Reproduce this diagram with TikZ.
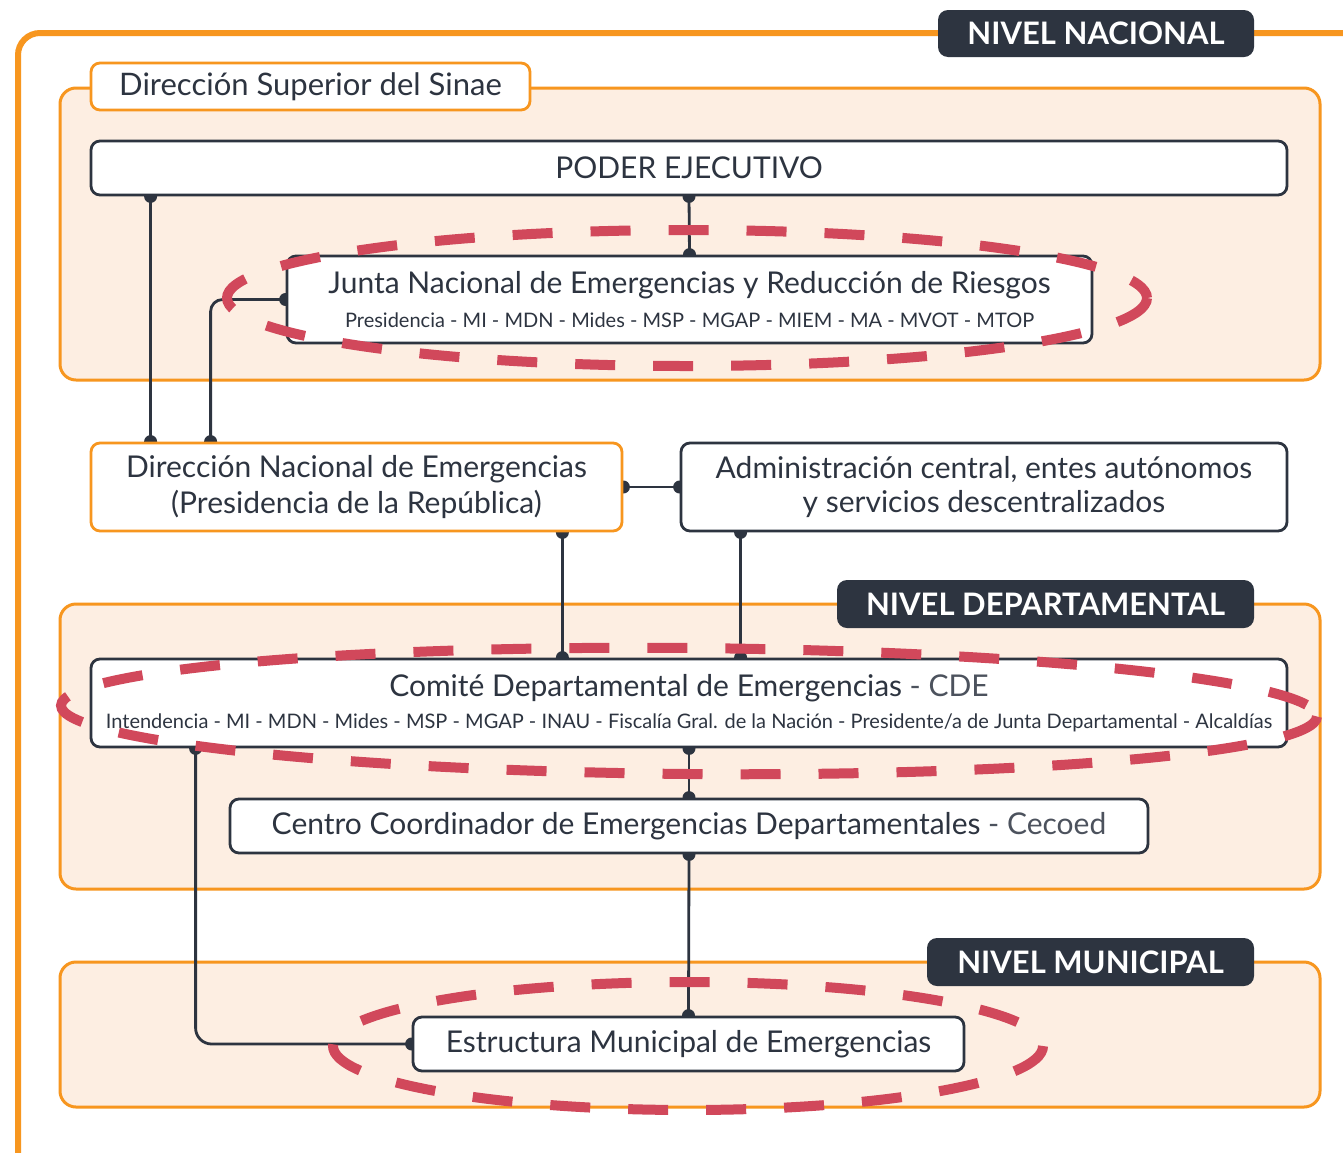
\documentclass[tikz,border=0pt]{standalone}
\usepackage{fontspec}
\setmainfont{Lato}
\usetikzlibrary{calc}
\definecolor{org}{HTML}{F7961F}
\definecolor{peach}{HTML}{FDEEE2}
\definecolor{ink}{HTML}{2D3440}
\definecolor{redd}{HTML}{D1485B}
\pgfdeclarelayer{back}
\pgfdeclarelayer{mid}
\pgfdeclarelayer{front}
\pgfsetlayers{back,mid,main,front}
\begin{document}
\begin{tikzpicture}[x=1pt,y=-1pt,
 panel/.style={draw=org, fill=peach, line width=3pt, rounded corners=16pt},
 box/.style={draw=ink, fill=white, line width=2.8pt, rounded corners=9pt, text=ink, align=center, inner sep=0pt},
 obox/.style={box, draw=org},
 badge/.style={fill=ink, rounded corners=10pt, text=white, font=\bfseries\fontsize{31}{34}\selectfont, inner sep=0pt},
 big/.style={font=\fontsize{30}{34}\selectfont},
 conn/.style={draw=ink, line width=2.8pt},
 dot/.style={fill=ink},
 ell/.style={draw=redd, line width=10pt, dash pattern=on 40pt off 38pt}
]
\clip (0,0) rectangle (1343,1152);

% background, frame and panels
\begin{pgfonlayer}{back}
\fill[white] (0,0) rectangle (1343,1152);
\draw[org, line width=6pt, rounded corners=22pt] (1360,33) -- (18,33) -- (18,1200);
\draw[panel] (60,88) rectangle (1320,380);
\draw[panel] (60,604) rectangle (1320,889);
\draw[panel] (60,962) rectangle (1320,1107);
\end{pgfonlayer}

% badges and tab
\node[badge, minimum width=316pt, minimum height=47pt] (nn) at (1096,33.5) {NIVEL NACIONAL};
\node[badge, minimum width=417pt, minimum height=48pt] (nd) at (1045.5,604) {NIVEL DEPARTAMENTAL};
\node[badge, minimum width=327pt, minimum height=48pt] (nm) at (1090.5,962) {NIVEL MUNICIPAL};
\node[obox, font=\fontsize{31}{34}\selectfont, minimum width=439pt, minimum height=47pt] (tab) at (310.5,86.5) {Dirección Superior del Sinae};

% boxes
\node[box, big, minimum width=1196pt, minimum height=54pt] (poder) at (689,168) {PODER EJECUTIVO};
\node[box, minimum width=805pt, minimum height=87pt] (junta) at (689.5,299.5)
 {{\fontsize{30}{34}\selectfont Junta Nacional de Emergencias y Reducción de Riesgos}\\[12pt]
  {\fontsize{20}{24}\selectfont Presidencia - MI - MDN - Mides - MSP - MGAP - MIEM - MA - MVOT - MTOP}};
\node[obox, minimum width=531pt, minimum height=88pt] (dne) at (356.5,487)
 {{\fontsize{30}{34}\selectfont Dirección Nacional de Emergencias}\\[6pt]
  {\fontsize{30}{34}\selectfont (Presidencia de la República)}};
\node[box, minimum width=606pt, minimum height=88pt] (adm) at (984,487)
 {{\fontsize{30}{34}\selectfont Administración central, entes autónomos}\\[6pt]
  {\fontsize{30}{34}\selectfont y servicios descentralizados}};
\node[box, minimum width=1196pt, minimum height=88pt] (cde) at (689,703)
 {{\fontsize{30}{34}\selectfont Comité Departamental de Emergencias \textcolor{ink!85}{- CDE}}\\[11pt]
  {\fontsize{20}{24}\selectfont Intendencia - MI - MDN - Mides - MSP - MGAP - INAU - Fiscalía Gral. de la Nación - Presidente/a de Junta Departamental - Alcaldías}};
\node[box, big, minimum width=918pt, minimum height=54pt] (cec) at (689,826) {Centro Coordinador de Emergencias Departamentales \textcolor{ink!85}{- Cecoed}};
\node[box, big, minimum width=551pt, minimum height=54pt] (muni) at (688.5,1044) {Estructura Municipal de Emergencias};

% connector anchor points
\coordinate (p1) at ([xshift=61pt]poder.south west);
\coordinate (d1) at ([xshift=61pt]dne.north west);
\coordinate (d2) at ([xshift=121pt]dne.north west);
\coordinate (d3) at ([xshift=-61pt]dne.south east);
\coordinate (a3) at ([xshift=61pt]adm.south west);
\coordinate (c1) at (d3 |- cde.north);
\coordinate (c2) at (a3 |- cde.north);
\coordinate (c3) at ([xshift=106pt]cde.south west);

\begin{pgfonlayer}{mid}
\draw[conn] (p1) -- (d1);
\draw[conn] (poder.south) -- (junta.north);
\draw[conn, rounded corners=12pt] (junta.west) -| (d2);
\draw[conn] (dne.east) -- (adm.west);
\draw[conn] (d3) -- (c1);
\draw[conn] (a3) -- (c2);
\draw[conn] (cde.south) -- (cec.north);
\draw[conn] (cec.south) -- (muni.north);
\draw[conn, rounded corners=16pt] (c3) |- (muni.west);
\foreach \q in {p1,d1,d2,d3,a3,c1,c2,c3,poder.south,junta.north,junta.west,dne.east,adm.west,cde.south,cec.north,cec.south,muni.north,muni.west}
  \fill[dot] (\q) circle (6.5pt);
\end{pgfonlayer}

% highlight ellipses
\begin{pgfonlayer}{front}
\draw[ell] (687,298) ellipse [x radius=460, y radius=68];
\draw[ell, rotate around={-0.5:(689,711)}] (689,711) ellipse [x radius=628, y radius=63];
\draw[ell] (688,1046) ellipse [x radius=355, y radius=64];
\end{pgfonlayer}
\end{tikzpicture}
\end{document}
